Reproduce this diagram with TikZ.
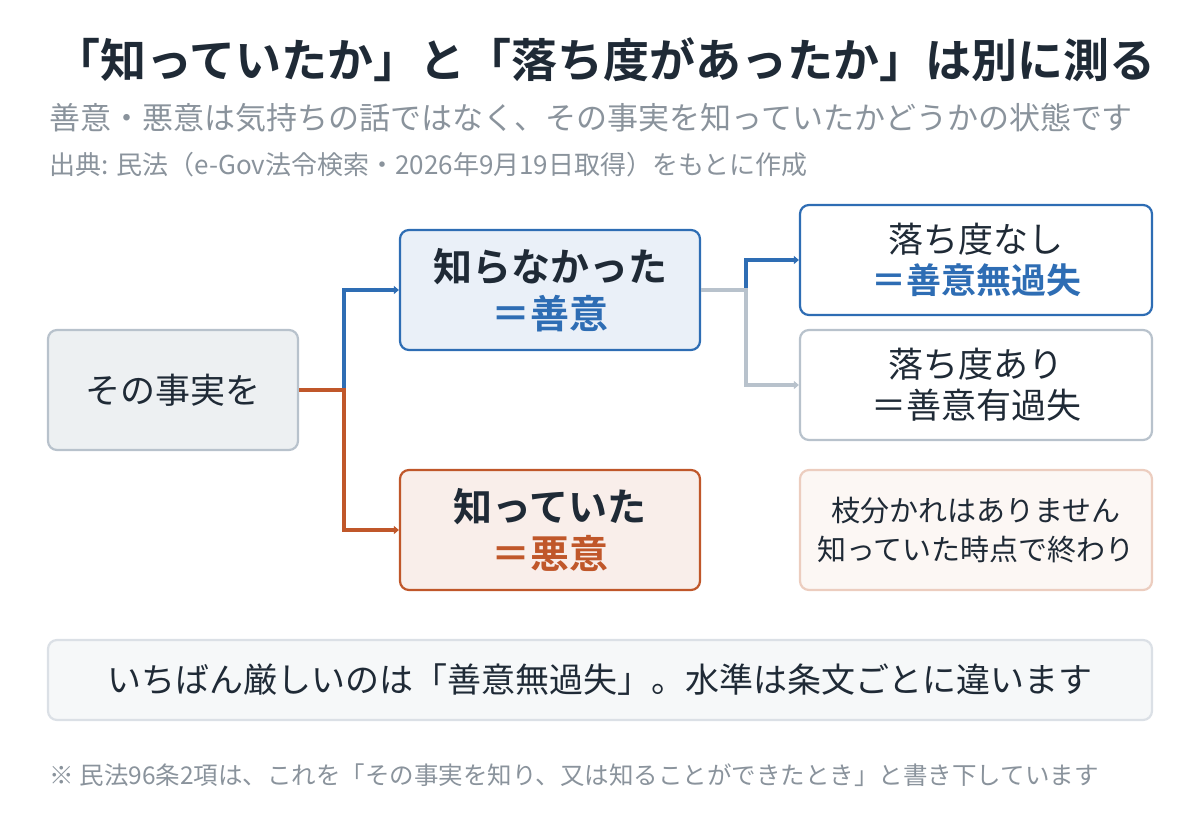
\documentclass[tikz,border=0pt]{standalone}
\usepackage{fontspec}
\setmainfont{Noto Sans CJK JP}[BoldFont={Noto Sans CJK JP Bold}]
\usetikzlibrary{arrows.meta}
\definecolor{ink}{HTML}{1F2A36}
\definecolor{grey}{HTML}{8A939C}
\definecolor{blue}{HTML}{2E6DB4}
\definecolor{orange}{HTML}{C0572A}
\definecolor{pale}{HTML}{B8C2CC}
\tikzset{
  box/.style={draw, rounded corners=9pt, line width=2.2pt, align=center, text=ink, inner sep=0pt},
  link/.style={line width=4pt, -{Triangle[length=5pt,width=8pt]}},
}
\newcommand{\fs}[1]{\fontsize{#1}{#1}\selectfont}
\begin{document}
\begin{tikzpicture}[x=1pt, y=-1pt]
            \useasboundingbox (0,0) rectangle (1200,820);

            % Heading
            \node[text=ink, font=\fs{46}\bfseries] (title) at (605,60) {「知っていたか」と「落ち度があったか」は別に測る};
            \node[anchor=west, text=grey, font=\fs{31}] (sub) at (46,118) {善意・悪意は気持ちの話ではなく、その事実を知っていたかどうかの状態です};
            \node[anchor=west, text=grey, font=\fs{26}] (src) at (46,165) {出典: 民法（e-Gov法令検索・2026年9月19日取得）をもとに作成};

            % Nodes
            \node[box, draw=pale, fill=pale!25, minimum width=250pt, minimum height=120pt, font=\fs{35}] (fact) at (173,390) {その事実を};
            \node[box, draw=blue, fill=blue!10, minimum width=300pt, minimum height=120pt, font=\fs{39}\bfseries] (unknown) at (550,290) {知らなかった\\[8pt]\textcolor{blue}{＝善意}};
            \node[box, draw=orange, fill=orange!10, minimum width=300pt, minimum height=120pt, font=\fs{39}\bfseries] (known) at (550,530) {知っていた\\[8pt]\textcolor{orange}{＝悪意}};
            \node[box, draw=blue, fill=white, minimum width=352pt, minimum height=110pt, font=\fs{35}] (nofault) at (976,260) {落ち度なし\\[6pt]\textcolor{blue}{\bfseries ＝善意無過失}};
            \node[box, draw=pale, fill=white, minimum width=352pt, minimum height=110pt, font=\fs{35}] (fault) at (976,385) {落ち度あり\\[6pt]＝善意有過失};
            \node[box, draw=orange!30, fill=orange!5, minimum width=352pt, minimum height=120pt, font=\fs{29}] (nobranch) at (976,530) {枝分かれはありません\\[10pt]知っていた時点で終わり};
            \node[box, draw=pale!50, fill=pale!12, minimum width=1104pt, minimum height=80pt, font=\fs{34}] (note) at (600,680) {いちばん厳しいのは「善意無過失」。水準は条文ごとに違います};
            \node[anchor=west, text=grey, font=\fs{24.5}] (foot) at (46,775) {※ 民法96条2項は、これを「その事実を知り、又は知ることができたとき」と書き下しています};

            % Edges
            \draw[link, blue] (fact.east) -| ++(45,-100) -- (unknown.west);
            \draw[link, orange] (fact.east) -| ++(45,140) -- (known.west);
            \draw[link, pale] (unknown.east) -| ++(45,95) -- (fault.west);
            \draw[link, blue] (unknown.east) ++(45,0) |- (nofault.west);
            \draw[line width=4pt, pale] (unknown.east) -- ++(47,0);
\end{tikzpicture}
\end{document}
